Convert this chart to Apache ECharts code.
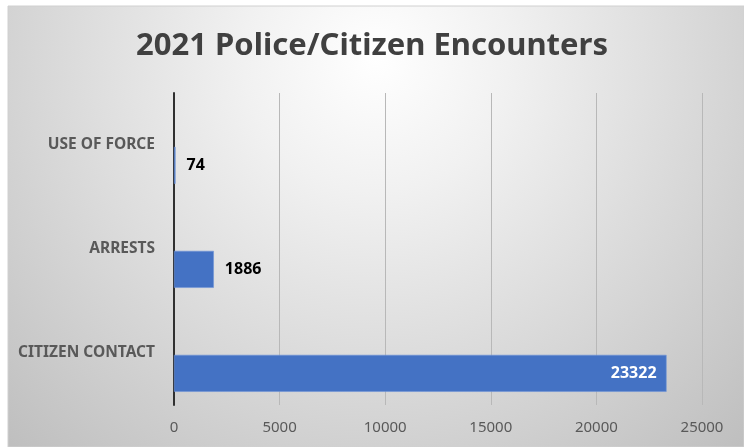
<!DOCTYPE html>
<html><head><meta charset="utf-8">
<script src="https://cdn.jsdelivr.net/npm/echarts@6/dist/echarts.min.js"></script>
<style>html,body{margin:0;padding:0;background:#fff}#c{width:744px;height:447px}</style>
</head><body><div id="c"></div>
<script>
const categories = ['CITIZEN CONTACT', 'ARRESTS', 'USE OF FORCE'];
const values = [23322, 1886, 74];
const xTicks = [0, 5000, 10000, 15000, 20000, 25000];
const titleText = '2021 Police/Citizen Encounters';

const FONT = '"Noto Sans", sans-serif';
const chart = echarts.init(document.getElementById('c'), null, {renderer: 'canvas'});

const dataItems = values.map(function (v, i) {
  const inside = v > 10000;
  return {
    value: v,
    label: {
      show: true,
      position: inside ? 'insideRight' : 'right',
      distance: inside ? 10 : 11,
      color: inside ? '#ffffff' : '#000000',
      fontWeight: 'bold',
      fontSize: 16,
      fontFamily: FONT
    }
  };
});

chart.setOption({
  animation: false,
  graphic: [{
    type: 'rect', z: -10, silent: true,
    shape: {x: 8, y: 6, width: 736, height: 441},
    style: {
      fill: {type: 'radial', x: 0.5, y: 0.12, r: 1.2,
        colorStops: [{offset: 0, color: '#ffffff'}, {offset: 0.25, color: '#f1f1f1'}, {offset: 1, color: '#bfbfbf'}]},
      stroke: '#d0d0d0', lineWidth: 1
    }
  }],
  title: {
    text: titleText, left: 'center', top: 26,
    textStyle: {fontFamily: FONT, fontWeight: 'bold', fontSize: 31, color: '#404040'}
  },
  grid: {left: 174, right: 42, top: 93, bottom: 42, containLabel: false},
  xAxis: {
    type: 'value', min: xTicks[0], max: xTicks[xTicks.length - 1], interval: xTicks[1] - xTicks[0],
    axisLine: {show: false}, axisTick: {show: false},
    splitLine: {show: true, lineStyle: {color: '#b8b8b8', width: 1}},
    axisLabel: {color: '#595959', fontSize: 15, fontFamily: FONT, margin: 15,
      formatter: function (v) { return String(v); }}
  },
  yAxis: {
    type: 'category', data: categories,
    axisLine: {show: true, lineStyle: {color: '#303030', width: 2}},
    axisTick: {show: false},
    axisLabel: {color: '#595959', fontSize: 15.5, fontWeight: 'bold', fontFamily: FONT, margin: 19}
  },
  series: [
    {type: 'bar', name: 'blank', data: values.map(function () { return null; }), barWidth: 37, barGap: '10%', silent: true},
    {type: 'bar', name: 'Encounters', data: dataItems, barWidth: 37, barGap: '10%',
      itemStyle: {color: '#4472c4', borderColor: '#6f93d6', borderWidth: 0.6}}
  ]
});
</script></body></html>
